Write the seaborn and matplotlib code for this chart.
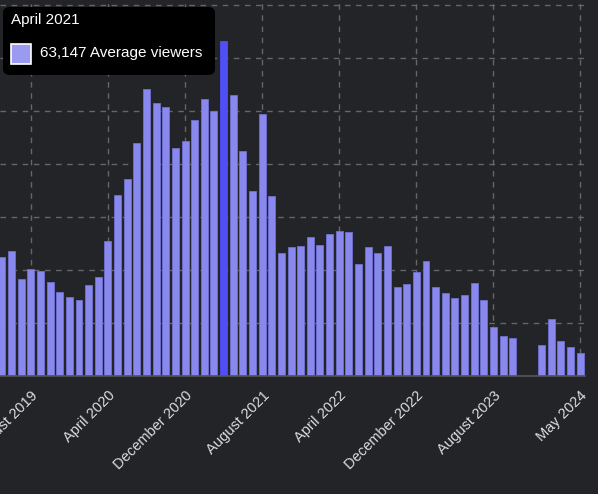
import numpy as np
import pandas as pd
import matplotlib
matplotlib.use("Agg")
import matplotlib.pyplot as plt
import seaborn as sns
from matplotlib.patches import FancyBboxPatch, Rectangle

months = pd.date_range("2019-05-01", "2024-05-01", freq="MS").strftime("%B %Y").tolist()
viewers = [22430, 23560, 18280, 20170, 19790, 17720, 15830, 14890, 14330, 17150, 18660, 25450,
           34120, 37130, 43920, 54100, 51460, 50700, 42980, 44300, 48260, 52210, 49950, 63147,
           52970, 42410, 34870, 49390, 33930, 23190, 24320, 24510, 26200, 24690, 26770, 27330,
           27140, 21110, 24320, 23190, 24510, 16780, 17340, 19600, 21680, 16780, 15650, 14700,
           15270, 17530, 14330, 9240, 7540, 7160, np.nan, np.nan, 5840, 10740, 6600, 5470, 4340]
tick_labels = ["August 2019", "April 2020", "December 2020", "August 2021",
               "April 2022", "December 2022", "August 2023", "May 2024"]

df = pd.DataFrame({"month": months, "viewers": viewers})
bg = "#232427"
sns.set_theme(style="dark")
plt.rcParams["font.family"] = ["Liberation Sans", "DejaVu Sans"]
fig = plt.figure(figsize=(5.98, 4.94), dpi=100, facecolor=bg)
ax = fig.add_axes([0, 1 - 376 / 494, 585 / 598, 376 / 494])
ax.set_facecolor(bg)
sns.barplot(data=df, x="month", y="viewers", color="#8888ee", saturation=1,
            width=0.72, edgecolor="#7070d0", linewidth=0.6, ax=ax)
for p in ax.patches:
    if abs(p.get_height() - 63147) < 1:
        p.set_facecolor("#4f4ff5")
        p.set_edgecolor("#4f4ff5")

ax.set_xlim(-0.2, len(months) - 0.5)
ax.set_ylim(0, 70870)
ax.set_yticks(range(0, 70001, 10000))
ax.set_yticklabels([])
idx = [months.index(t) for t in tick_labels]
ax.set_xticks(idx)
ax.set_xticklabels(tick_labels, rotation=45, ha="right", rotation_mode="anchor",
                   color="#dddddd", fontsize=10.5)
ax.tick_params(axis="x", length=4, color="#777777", pad=5)
ax.tick_params(axis="y", length=0)
ax.grid(True, color="#666666", linestyle=(0, (4, 4)), linewidth=1)
ax.set_axisbelow(True)
for s in ["top", "right", "left"]:
    ax.spines[s].set_visible(False)
ax.spines["bottom"].set_color("#555555")
ax.set_xlabel("")
ax.set_ylabel("")

# tooltip
box = FancyBboxPatch((3 / 598, 1 - 75 / 494), 212 / 598, 68 / 494, transform=fig.transFigure,
                     boxstyle="round,pad=0,rounding_size=0.012", facecolor="#000000",
                     edgecolor="none", zorder=10)
fig.patches.append(box)
fig.text(11 / 598, 1 - 20 / 494, "April 2021", color="white", fontsize=11,
         va="center", ha="left", zorder=11)
fig.patches.append(Rectangle((11 / 598, 1 - 64 / 494), 20 / 598, 20 / 494, transform=fig.transFigure,
                             facecolor="#9a9af0", edgecolor="white", linewidth=1.2, zorder=11))
fig.text(40 / 598, 1 - 53 / 494, "63,147 Average viewers", color="white", fontsize=11,
         va="center", ha="left", zorder=11)

fig.savefig("out.png", dpi=100, facecolor=bg)
